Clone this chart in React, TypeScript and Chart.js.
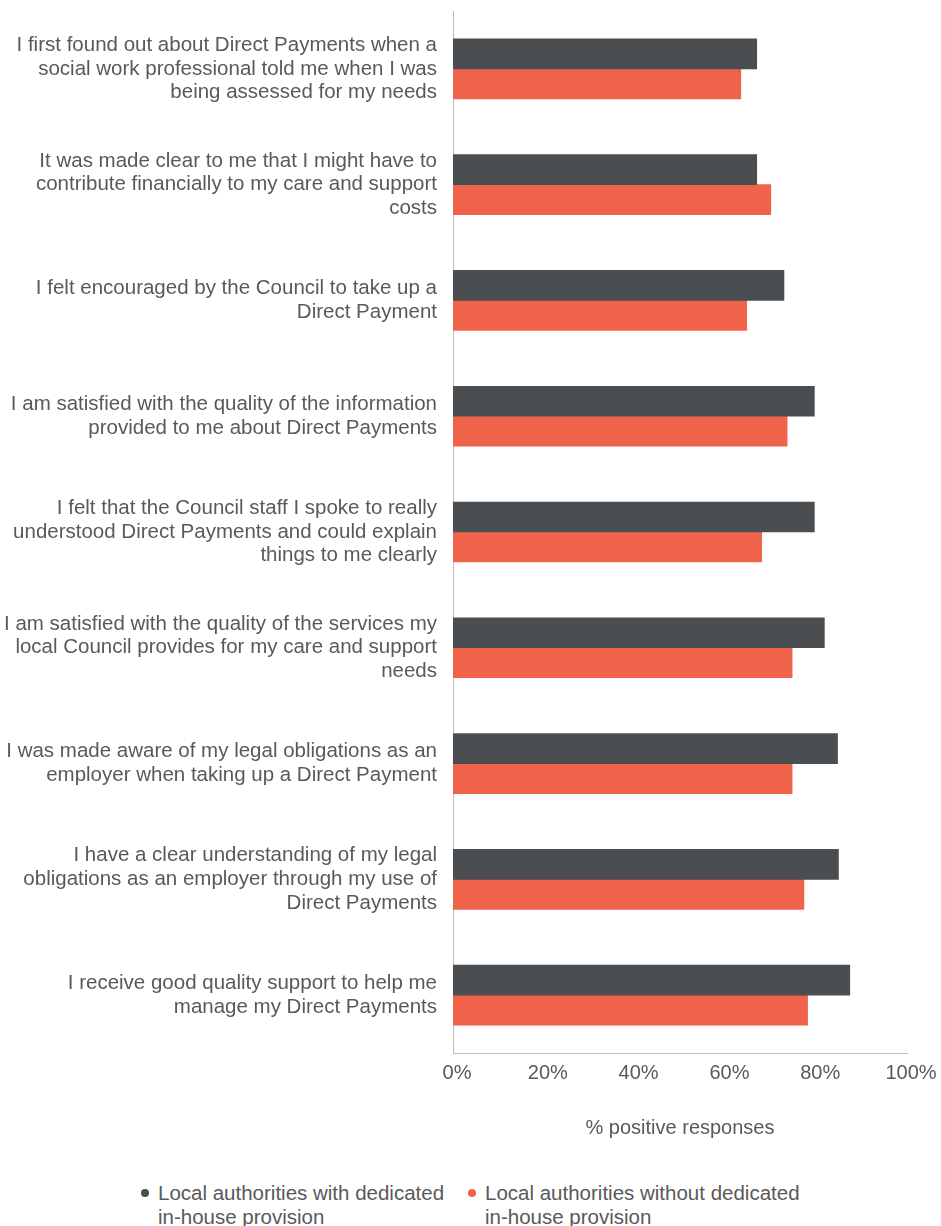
import React, { useEffect, useRef } from "react";
import { Chart, registerables } from "chart.js";

Chart.register(...registerables);

const categories: string[][] = [
  ["I first found out about Direct Payments when a", "social work professional told me when I was", "being assessed for my needs"],
  ["It was made clear to me that I might have to", "contribute financially to my care and support", "costs"],
  ["I felt encouraged by the Council to take up a", "Direct Payment"],
  ["I am satisfied with the quality of the information", "provided to me about Direct Payments"],
  ["I felt that the Council staff I spoke to really", "understood Direct Payments and could explain", "things to me clearly"],
  ["I am satisfied with the quality of the services my", "local Council provides for my care and support", "needs"],
  ["I was made aware of my legal obligations as an", "employer when taking up a Direct Payment"],
  ["I have a clear understanding of my legal", "obligations as an employer through my use of", "Direct Payments"],
  ["I receive good quality support to help me", "manage my Direct Payments"],
];

const withDedicated: number[] = [66.9, 66.9, 72.9, 79.6, 79.6, 81.8, 84.7, 84.9, 87.4];
const withoutDedicated: number[] = [63.4, 70.0, 64.7, 73.6, 68.0, 74.7, 74.7, 77.3, 78.1];

const seriesNames: string[][] = [
  ["Local authorities with dedicated", "in-house provision"],
  ["Local authorities without dedicated", "in-house provision"],
];

const xTicks: number[] = [0, 20, 40, 60, 80, 100];
const xTitle = "% positive responses";

const DARK = "#4b4e51";
const RED = "#f0634a";
const TEXT = "#595959";
const AXIS = "#bdbdbd";
const FONT = "'Liberation Sans', Arial, sans-serif";

export default function App() {
  const ref = useRef<HTMLCanvasElement | null>(null);

  useEffect(() => {
    if (!ref.current) return;
    const chart = new Chart(ref.current, {
      type: "bar",
      data: {
        labels: categories,
        datasets: [
          { label: seriesNames[0].join(" "), data: withDedicated, backgroundColor: DARK, barThickness: 30 },
          { label: seriesNames[1].join(" "), data: withoutDedicated, backgroundColor: RED, barThickness: 30 },
        ],
      },
      options: {
        indexAxis: "y",
        animation: false,
        responsive: false,
        maintainAspectRatio: false,
        layout: { padding: { top: 11, right: 34, bottom: 0, left: 0 } },
        plugins: { legend: { display: false }, tooltip: { enabled: false } },
        scales: {
          x: {
            min: 0,
            max: 100,
            afterBuildTicks: (scale: any) => {
              scale.ticks = xTicks.map((v) => ({ value: v }));
            },
            afterFit: (scale: any) => {
              scale.height = 97;
              scale.paddingLeft = 0;
              scale.paddingRight = 0;
            },
            grid: { display: false, drawTicks: false },
            border: { display: true, color: AXIS, width: 1 },
            ticks: {
              color: TEXT,
              padding: 8,
              labelOffset: 4,
              font: { family: FONT, size: 20, lineHeight: 1.2 },
              callback: (v: any) => v + "%",
            },
            title: {
              display: true,
              text: xTitle,
              color: TEXT,
              padding: { top: 0, bottom: 10 },
              font: { family: FONT, size: 20, lineHeight: 1.2 },
            },
          },
          y: {
            afterFit: (scale: any) => {
              scale.width = 453;
              scale.paddingTop = 0;
              scale.paddingBottom = 0;
            },
            grid: { display: false, drawTicks: false },
            border: { display: true, color: AXIS, width: 1 },
            ticks: {
              color: TEXT,
              padding: 16,
              autoSkip: false,
              font: { family: FONT, size: 20.5, lineHeight: 1.15 },
            },
          },
        },
      },
    });
    return () => chart.destroy();
  }, []);

  const legendItem = (left: number, color: string, lines: string[]) => (
    <div style={{ position: "absolute", left: left, top: 1181, fontFamily: FONT, fontSize: 20.5, lineHeight: "24px", color: TEXT }}>
      <span
        style={{
          position: "absolute",
          left: -17,
          top: 8,
          width: 8,
          height: 8,
          borderRadius: 4,
          background: color,
        }}
      />
      {lines.map((l, i) => (
        <div key={i} style={{ whiteSpace: "nowrap" }}>{l}</div>
      ))}
    </div>
  );

  return (
    <div style={{ position: "absolute", left: 0, top: 0, width: 941, height: 1226, background: "#fff", overflow: "hidden" }}>
      <canvas ref={ref} width={941} height={1150} style={{ display: "block", width: 941, height: 1150 }} />
      {legendItem(158, DARK, seriesNames[0])}
      {legendItem(485, RED, seriesNames[1])}
    </div>
  );
}
